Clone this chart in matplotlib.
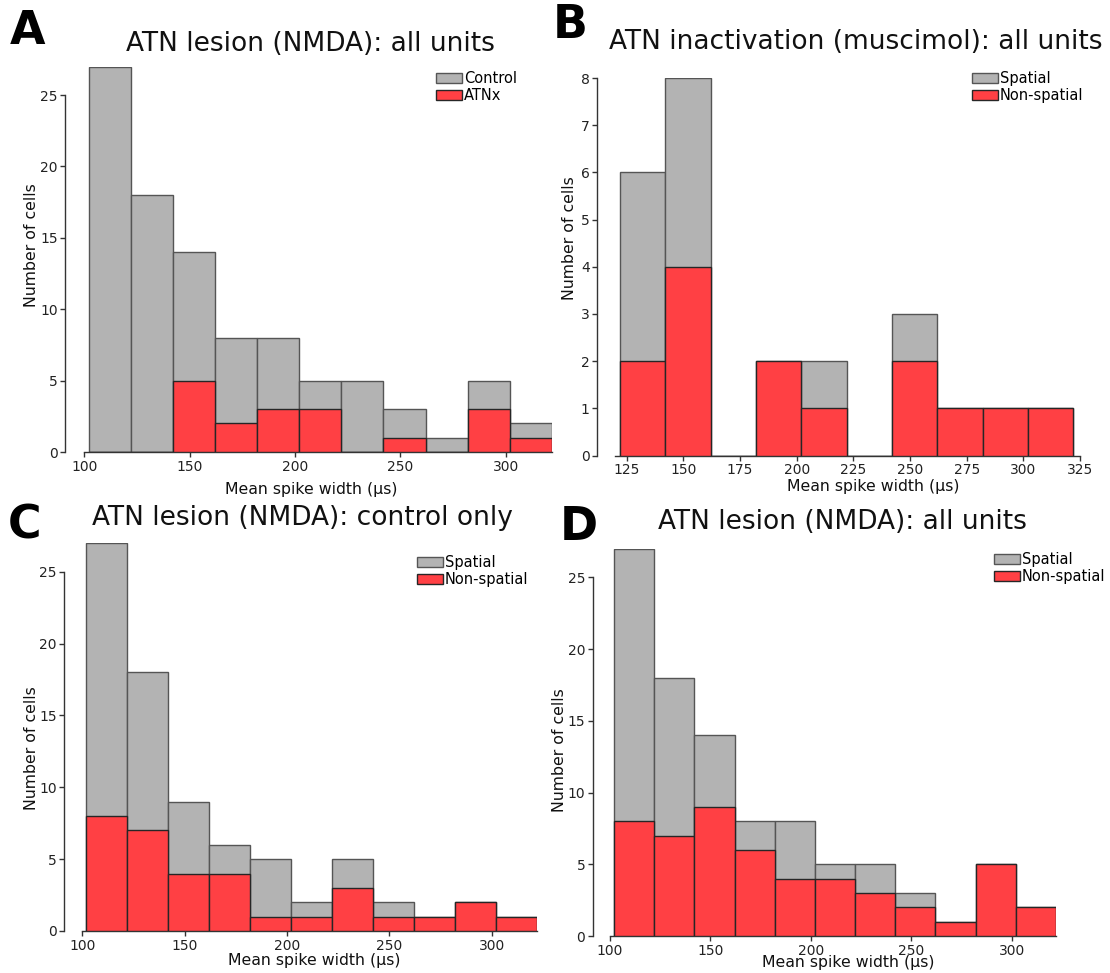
import numpy as np
import matplotlib
matplotlib.use("Agg")
import matplotlib.pyplot as plt
from matplotlib.patches import Patch

W, H = 1110, 973
DPI = 100

# histogram counts, 20 us bins
edges_lesion = np.arange(102, 323, 20)      # 102 .. 322
edges_musc = np.arange(122, 323, 20)        # 122 .. 322

# A: lesion, all units
a_control = [27, 18, 14, 8, 8, 5, 5, 3, 1, 5, 2]
a_atnx = [0, 0, 5, 2, 3, 3, 0, 1, 0, 3, 1]

# B: muscimol, all units
b_spatial = [6, 8, 0, 2, 2, 0, 3, 1, 1, 1]
b_nonspatial = [2, 4, 0, 2, 1, 0, 2, 1, 1, 1]

# C: lesion, control only
c_spatial = [27, 18, 9, 6, 5, 2, 5, 2, 1, 2, 1]
c_nonspatial = [8, 7, 4, 4, 1, 1, 3, 1, 1, 2, 1]

# D: lesion, all units
d_spatial = [27, 18, 14, 8, 8, 5, 5, 3, 1, 5, 2]
d_nonspatial = [8, 7, 9, 6, 4, 4, 3, 2, 1, 5, 2]

GREY = "#b3b3b3"
RED = "#ff4044"

plt.rcParams["font.family"] = "DejaVu Sans"


def box(l, t, r, b):
    # pixel box -> figure fraction rect
    return [l / W, 1 - b / H, (r - l) / W, (b - t) / H]


def fx(x):
    return x / W


def fy(y):
    return 1 - y / H


fig = plt.figure(figsize=(W / DPI, H / DPI), dpi=DPI)


def panel(rect, edges, back, front, labels, xlim, xticks, ylim, yticks, spine_off_px, leg_xy):
    ax = fig.add_axes(rect)
    lefts = edges[:-1]
    ax.bar(lefts, back, width=20, align="edge", color=GREY,
           edgecolor="#555555", linewidth=1.0, zorder=2)
    ax.bar(lefts, front, width=20, align="edge", color=RED,
           edgecolor="#262626", linewidth=1.0, zorder=3)
    ax.set_xlim(*xlim)
    ax.set_ylim(*ylim)
    ax.set_xticks(xticks)
    ax.set_yticks(yticks)
    for s in ("top", "right"):
        ax.spines[s].set_visible(False)
    # outward offset is given in points
    ax.spines["left"].set_position(("outward", spine_off_px * 72 / DPI))
    ax.spines["left"].set_bounds(yticks[0], yticks[-1])
    ax.spines["bottom"].set_bounds(xlim[0], xlim[1])
    for s in ("left", "bottom"):
        ax.spines[s].set_color("#333333")
        ax.spines[s].set_linewidth(1.0)
    ax.tick_params(direction="out", length=3.5, width=1.0, color="#333333",
                   labelsize=10, labelcolor="#222222", pad=2)
    handles = [Patch(facecolor=GREY, edgecolor="#555555", label=labels[0]),
               Patch(facecolor=RED, edgecolor="#262626", label=labels[1])]
    fig.legend(handles=handles, loc="upper left",
               bbox_to_anchor=(fx(leg_xy[0]), fy(leg_xy[1])),
               frameon=False, fontsize=10.5, handlelength=1.8,
               handleheight=0.7, handletextpad=0.1, labelspacing=0.15,
               borderpad=0, borderaxespad=0)
    return ax


axA = panel(box(84.3, 66.5, 552, 452), edges_lesion, a_control, a_atnx,
            ["Control", "ATNx"], (100, 322), [100, 150, 200, 250, 300],
            (0, 27), [0, 5, 10, 15, 20, 25], 19, (436, 71))
axB = panel(box(615.4, 78, 1080, 455.5), edges_musc, b_spatial, b_nonspatial,
            ["Spatial", "Non-spatial"], (120, 325),
            [125, 150, 175, 200, 225, 250, 275, 300, 325],
            (0, 8), list(range(9)), 18, (972, 71))
axC = panel(box(82.3, 543, 536.7, 931), edges_lesion, c_spatial, c_nonspatial,
            ["Spatial", "Non-spatial"], (100, 322), [100, 150, 200, 250, 300],
            (0, 27), [0, 5, 10, 15, 20, 25], 18, (417, 555))
axD = panel(box(610, 548.6, 1056, 936), edges_lesion, d_spatial, d_nonspatial,
            ["Spatial", "Non-spatial"], (100, 322), [100, 150, 200, 250, 300],
            (0, 27), [0, 5, 10, 15, 20, 25], 17, (994, 552))

# titles and panel letters
titles = [("ATN lesion (NMDA): all units", 310, 44),
          ("ATN inactivation (muscimol): all units", 856, 42),
          ("ATN lesion (NMDA): control only", 302, 518),
          ("ATN lesion (NMDA): all units", 842, 522)]
for txt, x, y in titles:
    fig.text(fx(x), fy(y), txt, ha="center", va="center", fontsize=19, color="#111111")

letters = [("A", 28, 32), ("B", 570, 26), ("C", 25, 526), ("D", 579, 528)]
for txt, x, y in letters:
    fig.text(fx(x), fy(y), txt, ha="center", va="center", fontsize=33,
             fontweight="bold", color="black")

# axis labels
xlabels = [(311, 489), (873, 487), (314, 960), (848, 963)]
for x, y in xlabels:
    fig.text(fx(x), fy(y), "Mean spike width (µs)", ha="center", va="center",
             fontsize=11.3, color="#111111")
ylabels = [(32, 245), (570, 238), (32, 748), (560, 750)]
for x, y in ylabels:
    fig.text(fx(x), fy(y), "Number of cells", ha="center", va="center",
             rotation=90, fontsize=11.3, color="#111111")

fig.savefig("out.png", dpi=DPI)
